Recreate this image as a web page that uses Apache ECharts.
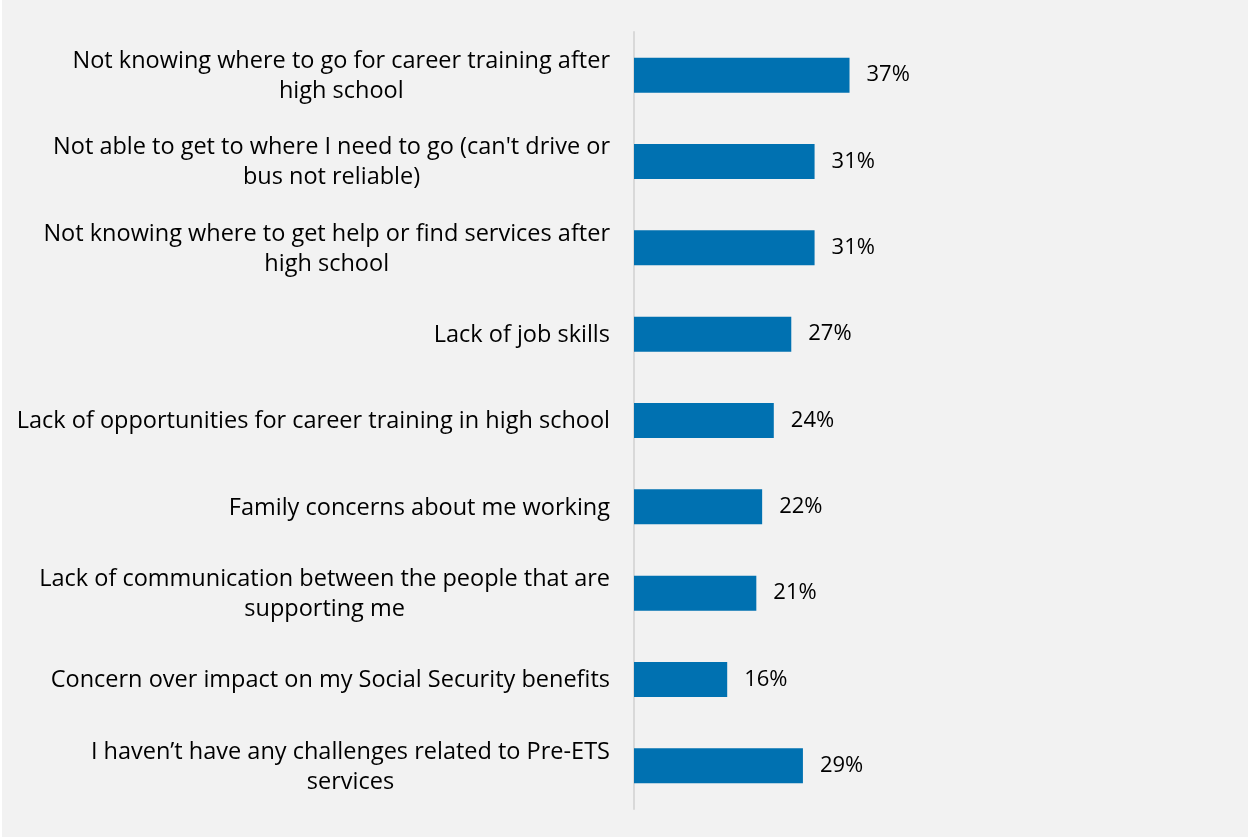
<!DOCTYPE html>
<html>
<head>
<meta charset="utf-8">
<style>
  html, body { margin: 0; padding: 0; background: #ffffff; }
  #chart { position: absolute; left: 2px; top: 0; width: 1246px; height: 837px; background: #f2f2f2; }
</style>
<script src="https://cdn.jsdelivr.net/npm/echarts@6/dist/echarts.min.js"></script>
</head>
<body>
<div id="chart"></div>
<script>
// Challenges reported (share of respondents, %)
const categories = [
  ["Not knowing where to go for career training after", "high school"],
  ["Not able to get to where I need to go (can't drive or", "bus not reliable)"],
  ["Not knowing where to get help or find services after", "high school"],
  ["Lack of job skills"],
  ["Lack of opportunities for career training in high school"],
  ["Family concerns about me working"],
  ["Lack of communication between the people that are", "supporting me"],
  ["Concern over impact on my Social Security benefits"],
  ["I haven\u2019t have any challenges related to Pre-ETS", "services"]
];
const values = [37, 31, 31, 27, 24, 22, 21, 16, 29];

const FONT = "Open Sans";
const chart = echarts.init(document.getElementById('chart'), null, { renderer: 'canvas' });

chart.setOption({
  backgroundColor: '#f2f2f2',
  animation: false,
  grid: { left: 632, right: 381, top: 32, bottom: 28, containLabel: false },
  xAxis: {
    type: 'value',
    min: 0,
    max: 40,
    show: false
  },
  yAxis: {
    type: 'category',
    inverse: true,
    data: categories.map(c => c.join('\n')),
    axisTick: { show: false },
    axisLine: { show: true, lineStyle: { color: '#d9d9d9', width: 2 } },
    axisLabel: {
      margin: 24,
      color: '#000000',
      fontFamily: FONT,
      fontSize: 23.5,
      lineHeight: 30,
      formatter: v => v.split('\n').map(l => '{c|' + l + '}').join('\n'),
      rich: {
        c: { align: 'center', color: '#000000', fontFamily: FONT, fontSize: 23.5, lineHeight: 30, padding: [2, 0, 0, 0] }
      }
    }
  },
  series: [{
    type: 'bar',
    data: values,
    barWidth: 35,
    itemStyle: { color: '#0071b1' },
    label: {
      show: true,
      position: 'right',
      distance: 17,
      formatter: p => p.value + '%',
      color: '#000000',
      fontFamily: FONT,
      fontSize: 22
    }
  }]
});
</script>
</body>
</html>
